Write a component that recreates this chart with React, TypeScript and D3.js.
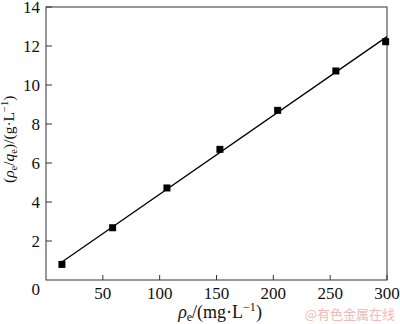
import React from "react";
import * as d3 from "d3";

// measured points (rho_e vs rho_e/q_e)
const rhoE = [14, 58.6, 106.4, 153, 203.8, 255, 298.8];
const ratio = [0.8, 2.68, 4.72, 6.7, 8.7, 10.72, 12.22];
const xTicks = [50, 100, 150, 200, 250, 300];
const yTicks = [2, 4, 6, 8, 10, 12, 14];
const fitRange = [14, 300];

const width = 400;
const height = 324;
const margin = { top: 7, right: 13, bottom: 44, left: 46 };

const App = () => {
  const xScale = d3
    .scaleLinear()
    .domain([0, 300])
    .range([margin.left, width - margin.right]);
  const yScale = d3
    .scaleLinear()
    .domain([0, 14])
    .range([height - margin.bottom, margin.top]);

  // least squares fit for the straight line
  const mx = d3.mean(rhoE) as number;
  const my = d3.mean(ratio) as number;
  const slope =
    (d3.sum(rhoE, (x, i) => (x - mx) * (ratio[i] - my)) as number) /
    (d3.sum(rhoE, (x) => (x - mx) * (x - mx)) as number);
  const intercept = my - slope * mx;
  const fitLine = d3
    .line<number>()
    .x((d) => xScale(d))
    .y((d) => yScale(intercept + slope * d));

  const x0 = xScale(0);
  const x1 = xScale(300);
  const y0 = yScale(0);
  const y1 = yScale(14);
  const font = "'Liberation Serif', 'Times New Roman', serif";
  const axisColor = "#333";

  return (
    <svg
      width={width}
      height={height}
      style={{ position: "absolute", left: 0, top: 0, background: "#fff" }}
      fontFamily={font}
    >
      <rect
        x={x0}
        y={y1}
        width={x1 - x0}
        height={y0 - y1}
        fill="none"
        stroke={axisColor}
        strokeWidth={1}
      />
      {xTicks.map((t) => (
        <g key={"x" + t}>
          <line x1={xScale(t)} x2={xScale(t)} y1={y0} y2={y0 - 5} stroke={axisColor} />
          <text x={xScale(t)} y={y0 + 19} fontSize={17} textAnchor="middle" fill="#111">
            {t}
          </text>
        </g>
      ))}
      {yTicks.map((t) => (
        <g key={"y" + t}>
          <line x1={x0} x2={x0 + 6} y1={yScale(t)} y2={yScale(t)} stroke={axisColor} />
          <text x={x0 - 6} y={yScale(t) + 6} fontSize={17} textAnchor="end" fill="#111">
            {t}
          </text>
        </g>
      ))}
      <text x={x0 - 6} y={y0 + 15} fontSize={17} textAnchor="end" fill="#111">
        0
      </text>

      <path
        d={fitLine(fitRange) as string}
        fill="none"
        stroke="#000"
        strokeWidth={1.3}
      />
      {rhoE.map((x, i) => (
        <rect
          key={i}
          x={xScale(x) - 3.5}
          y={yScale(ratio[i]) - 3.5}
          width={7}
          height={7}
          fill="#000"
        />
      ))}

      <text x={220} y={318} fontSize={18} textAnchor="middle" fill="#111">
        <tspan fontStyle="italic">ρ</tspan>
        <tspan fontSize={12} dy={3}>e</tspan>
        <tspan dy={-3}>/(mg·L</tspan>
        <tspan fontSize={12} dy={-7}>−1</tspan>
        <tspan dy={7}>)</tspan>
      </text>

      <text
        transform="translate(14, 183) rotate(-90)"
        fontSize={15.5}
        textAnchor="start"
        fill="#111"
      >
        <tspan>(</tspan>
        <tspan fontStyle="italic">ρ</tspan>
        <tspan fontSize={10.5} dy={3}>e</tspan>
        <tspan dy={-3}>/</tspan>
        <tspan fontStyle="italic">q</tspan>
        <tspan fontSize={10.5} dy={3}>e</tspan>
        <tspan dy={-3}>)/(g·L</tspan>
        <tspan fontSize={10.5} dy={-6}>−1</tspan>
        <tspan dy={6}>)</tspan>
      </text>

      <text
        x={395}
        y={319}
        fontSize={13}
        textAnchor="end"
        fill="#f4b8b8"
        fontFamily="'Noto Sans CJK SC', sans-serif"
      >
        @有色金属在线
      </text>
    </svg>
  );
};

export default App;
